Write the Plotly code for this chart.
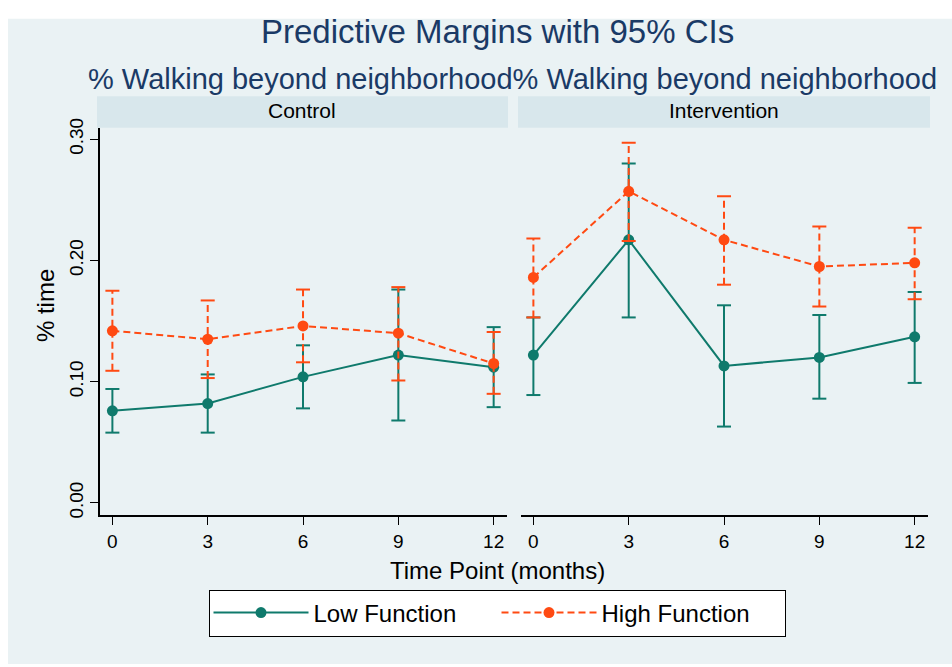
import plotly.graph_objects as go
from plotly.subplots import make_subplots

# data
months = [0, 3, 6, 9, 12]
panels = ["Control", "Intervention"]

ctrl_low = [0.076, 0.082, 0.104, 0.122, 0.112]
ctrl_low_lo = [0.058, 0.058, 0.078, 0.068, 0.079]
ctrl_low_hi = [0.094, 0.106, 0.130, 0.176, 0.145]

ctrl_high = [0.142, 0.135, 0.146, 0.140, 0.115]
ctrl_high_lo = [0.109, 0.103, 0.116, 0.101, 0.090]
ctrl_high_hi = [0.175, 0.167, 0.176, 0.178, 0.141]

int_low = [0.122, 0.217, 0.113, 0.120, 0.137]
int_low_lo = [0.089, 0.153, 0.063, 0.086, 0.099]
int_low_hi = [0.153, 0.280, 0.163, 0.155, 0.174]

int_high = [0.186, 0.257, 0.217, 0.195, 0.198]
int_high_lo = [0.153, 0.216, 0.180, 0.162, 0.168]
int_high_hi = [0.218, 0.297, 0.253, 0.228, 0.227]

TEAL = "#0F7A6C"
ORANGE = "#FF4A12"
BG = "#EAF2F4"
STRIP = "#D8E7EC"
FONT = "Liberation Sans, Arial, sans-serif"
W, H = 952, 667


def px(x):
    return x / W


def py(y):
    return 1 - y / H


def ci_segments(lo, hi):
    xs, ys = [], []
    for m, a, b in zip(months, lo, hi):
        xs += [m, m, None]
        ys += [a, b, None]
    return xs, ys


fig = make_subplots(rows=1, cols=2)

series = [
    (1, ctrl_low, ctrl_low_lo, ctrl_low_hi, ctrl_high, ctrl_high_lo, ctrl_high_hi),
    (2, int_low, int_low_lo, int_low_hi, int_high, int_high_lo, int_high_hi),
]

for col, lw, lwlo, lwhi, hg, hglo, hghi in series:
    for name, vals, lo, hi, color, dash in [
        ("Low Function", lw, lwlo, lwhi, TEAL, "solid"),
        ("High Function", hg, hglo, hghi, ORANGE, "7px,4px"),
    ]:
        # confidence interval whiskers with caps
        xs, ys = ci_segments(lo, hi)
        fig.add_trace(
            go.Scatter(
                x=xs, y=ys, mode="lines+markers",
                line=dict(color=color, width=2, dash=dash),
                marker=dict(symbol="line-ew", size=10,
                            line=dict(color=color, width=2)),
                showlegend=False, hoverinfo="skip",
            ),
            row=1, col=col,
        )
        fig.add_trace(
            go.Scatter(
                x=months, y=vals, mode="lines+markers", name=name,
                legendgroup=name, showlegend=(col == 1),
                line=dict(color=color, width=2, dash=dash),
                marker=dict(color=color, size=11),
            ),
            row=1, col=col,
        )

yrange = [-0.0099, 0.3095]
xrange = [-0.39, 12.42]

fig.update_xaxes(
    range=xrange, tickvals=months, ticks="outside", ticklen=8,
    tickcolor="black", showline=True, linecolor="black", linewidth=1.5,
    showgrid=False, zeroline=False,
    tickfont=dict(family=FONT, size=19, color="black"),
)
fig.update_yaxes(
    range=yrange, tickvals=[0, 0.1, 0.2, 0.3], showgrid=True,
    gridcolor=BG, gridwidth=2, zeroline=False,
)
fig.update_layout(
    xaxis=dict(domain=[px(100), px(507)]),
    xaxis2=dict(domain=[px(521), px(928)]),
    yaxis=dict(
        domain=[py(515), py(120)], ticks="outside", ticklen=8,
        tickcolor="black", showline=True, linecolor="black", linewidth=1.5,
        tickformat=".2f", tickangle=-90,
        tickfont=dict(family=FONT, size=19, color="black"),
    ),
    yaxis2=dict(domain=[py(515), py(120)], showticklabels=False,
                showline=False, ticks=""),
)

shapes = [
    dict(type="rect", xref="paper", yref="paper", x0=px(8), x1=1,
         y0=0, y1=py(9), fillcolor=BG, line=dict(width=0), layer="below"),
    dict(type="rect", xref="paper", yref="paper", x0=px(97), x1=px(508),
         y0=py(120), y1=py(88), fillcolor=STRIP, line=dict(width=0)),
    dict(type="rect", xref="paper", yref="paper", x0=px(518), x1=px(930),
         y0=py(120), y1=py(88), fillcolor=STRIP, line=dict(width=0)),
]

annotations = [
    dict(text="Predictive Margins with 95% CIs", x=px(497), y=py(22),
         font=dict(size=33, color="#1A3A66")),
    dict(text="% Walking beyond neighborhood% Walking beyond neighborhood",
         x=px(512), y=py(70), font=dict(size=29, color="#1A3A66")),
    dict(text="Control", x=px(302), y=py(103), font=dict(size=21, color="black")),
    dict(text="Intervention", x=px(724), y=py(103),
         font=dict(size=21, color="black")),
    dict(text="Time Point (months)", x=px(497), y=py(572),
         font=dict(size=24, color="black")),
    dict(text="% time", x=px(45), y=py(302), textangle=-90,
         font=dict(size=24, color="black")),
]
for a in annotations:
    a.update(xref="paper", yref="paper", showarrow=False,
             xanchor="center", yanchor="middle")
    a["font"]["family"] = FONT

fig.update_layout(
    width=W, height=H,
    margin=dict(l=0, r=0, t=0, b=0),
    paper_bgcolor="white",
    plot_bgcolor="white",
    shapes=shapes,
    annotations=annotations,
    legend=dict(
        orientation="h", x=px(497), y=py(615), xanchor="center",
        yanchor="middle", bgcolor="white", bordercolor="black",
        borderwidth=1, font=dict(family=FONT, size=24, color="black"),
        entrywidth=178, itemwidth=95,
    ),
    font=dict(family=FONT),
)

fig.write_html(
    "out.html",
    post_script="document.body.style.margin='0';document.body.style.padding='0';",
    config={"displayModeBar": False},
)
